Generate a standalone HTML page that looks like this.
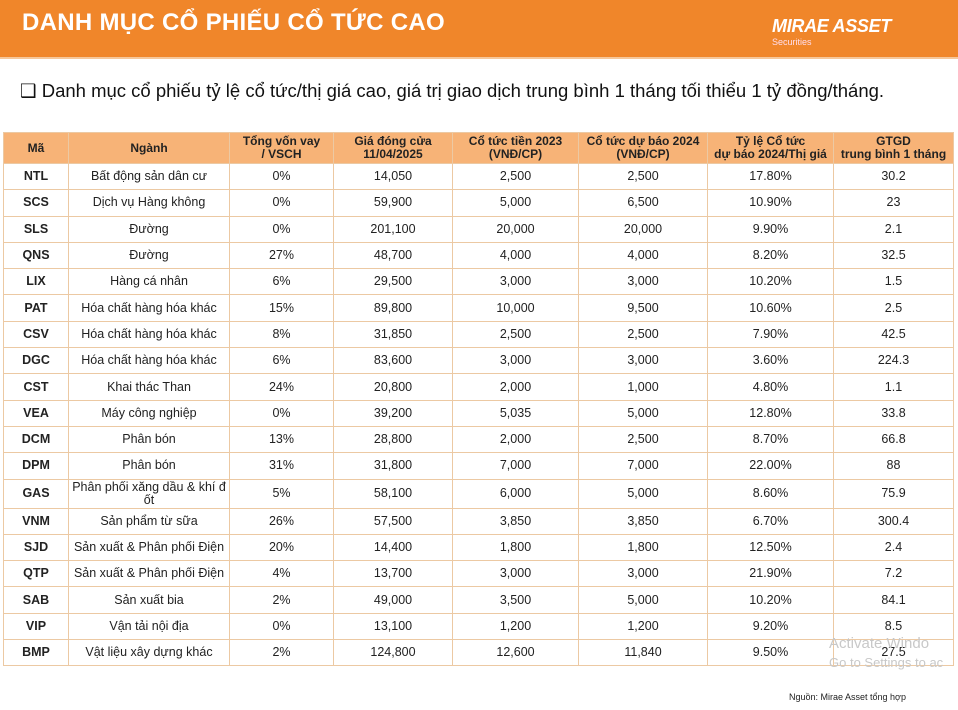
<!DOCTYPE html>
<html><head><meta charset="utf-8"><style>
body{margin:0;width:958px;height:710px;background:#fff;position:relative;overflow:hidden;font-family:"Liberation Sans","DejaVu Sans",sans-serif;color:#222}
.bar{position:absolute;left:0;top:0;width:958px;height:57px;background:#f0862a;border-bottom:2px solid #f6c79a}
.title{position:absolute;left:22px;top:9px;color:#fff;font-weight:bold;font-size:24px;letter-spacing:0.3px}
.logo{position:absolute;left:772px;top:16px;color:#fff;font-weight:bold;font-style:italic;font-size:18px;letter-spacing:-0.3px}
.sec{position:absolute;left:772px;top:37px;color:#fde;font-size:9px}
.sub{position:absolute;left:20px;top:80px;font-size:18.5px;color:#111}
table{position:absolute;left:3px;top:132px;border-collapse:collapse;table-layout:fixed;width:950px}
td,th{border:1px solid #ecc9a3;text-align:center;font-size:12.5px;padding:0;line-height:13px}
th{background:#f7b377;font-weight:bold;height:30px;font-size:12px}
td{height:25.3px}
td:first-child{font-weight:bold}
.foot{position:absolute;left:789px;top:692px;font-size:9px;color:#222}
.wm{position:absolute;left:829px;top:634px;font-size:15px;color:#c8c8c8;line-height:19px}
.wm span{font-size:13px}
</style></head><body>
<div class="bar"></div>
<div class="title">DANH MỤC CỔ PHIẾU CỔ TỨC CAO</div>
<div class="logo">MIRAE ASSET</div><div class="sec">Securities</div>
<div class="sub">❑ Danh mục cổ phiếu tỷ lệ cổ tức/thị giá cao, giá trị giao dịch trung bình 1 tháng tối thiểu 1 tỷ đồng/tháng.</div>
<table>
<colgroup><col style="width:65px"><col style="width:161px"><col style="width:104px"><col style="width:119px"><col style="width:126px"><col style="width:129px"><col style="width:126px"><col style="width:120px"></colgroup>
<tr><th>Mã</th><th>Ngành</th><th>Tổng vốn vay<br>/ VSCH</th><th>Giá đóng cửa<br>11/04/2025</th><th>Cổ tức tiền 2023<br>(VNĐ/CP)</th><th>Cổ tức dự báo 2024<br>(VNĐ/CP)</th><th>Tỷ lệ Cổ tức<br>dự báo 2024/Thị giá</th><th>GTGD<br>trung bình 1 tháng</th></tr>
<tr><td>NTL</td><td>Bất động sản dân cư</td><td>0%</td><td>14,050</td><td>2,500</td><td>2,500</td><td>17.80%</td><td>30.2</td></tr>
<tr><td>SCS</td><td>Dịch vụ Hàng không</td><td>0%</td><td>59,900</td><td>5,000</td><td>6,500</td><td>10.90%</td><td>23</td></tr>
<tr><td>SLS</td><td>Đường</td><td>0%</td><td>201,100</td><td>20,000</td><td>20,000</td><td>9.90%</td><td>2.1</td></tr>
<tr><td>QNS</td><td>Đường</td><td>27%</td><td>48,700</td><td>4,000</td><td>4,000</td><td>8.20%</td><td>32.5</td></tr>
<tr><td>LIX</td><td>Hàng cá nhân</td><td>6%</td><td>29,500</td><td>3,000</td><td>3,000</td><td>10.20%</td><td>1.5</td></tr>
<tr><td>PAT</td><td>Hóa chất hàng hóa khác</td><td>15%</td><td>89,800</td><td>10,000</td><td>9,500</td><td>10.60%</td><td>2.5</td></tr>
<tr><td>CSV</td><td>Hóa chất hàng hóa khác</td><td>8%</td><td>31,850</td><td>2,500</td><td>2,500</td><td>7.90%</td><td>42.5</td></tr>
<tr><td>DGC</td><td>Hóa chất hàng hóa khác</td><td>6%</td><td>83,600</td><td>3,000</td><td>3,000</td><td>3.60%</td><td>224.3</td></tr>
<tr><td>CST</td><td>Khai thác Than</td><td>24%</td><td>20,800</td><td>2,000</td><td>1,000</td><td>4.80%</td><td>1.1</td></tr>
<tr><td>VEA</td><td>Máy công nghiệp</td><td>0%</td><td>39,200</td><td>5,035</td><td>5,000</td><td>12.80%</td><td>33.8</td></tr>
<tr><td>DCM</td><td>Phân bón</td><td>13%</td><td>28,800</td><td>2,000</td><td>2,500</td><td>8.70%</td><td>66.8</td></tr>
<tr><td>DPM</td><td>Phân bón</td><td>31%</td><td>31,800</td><td>7,000</td><td>7,000</td><td>22.00%</td><td>88</td></tr>
<tr><td style="height:28px">GAS</td><td>Phân phối xăng dầu &amp; khí đ<br>ốt</td><td>5%</td><td>58,100</td><td>6,000</td><td>5,000</td><td>8.60%</td><td>75.9</td></tr>
<tr><td>VNM</td><td>Sản phẩm từ sữa</td><td>26%</td><td>57,500</td><td>3,850</td><td>3,850</td><td>6.70%</td><td>300.4</td></tr>
<tr><td>SJD</td><td>Sản xuất &amp; Phân phối Điện</td><td>20%</td><td>14,400</td><td>1,800</td><td>1,800</td><td>12.50%</td><td>2.4</td></tr>
<tr><td>QTP</td><td>Sản xuất &amp; Phân phối Điện</td><td>4%</td><td>13,700</td><td>3,000</td><td>3,000</td><td>21.90%</td><td>7.2</td></tr>
<tr><td>SAB</td><td>Sản xuất bia</td><td>2%</td><td>49,000</td><td>3,500</td><td>5,000</td><td>10.20%</td><td>84.1</td></tr>
<tr><td>VIP</td><td>Vận tải nội địa</td><td>0%</td><td>13,100</td><td>1,200</td><td>1,200</td><td>9.20%</td><td>8.5</td></tr>
<tr><td>BMP</td><td>Vật liệu xây dựng khác</td><td>2%</td><td>124,800</td><td>12,600</td><td>11,840</td><td>9.50%</td><td>27.5</td></tr>
</table>
<div class="wm">Activate Windo<br><span>Go to Settings to ac</span></div>
<div class="foot">Nguồn: Mirae Asset tổng hợp</div>
</body></html>
